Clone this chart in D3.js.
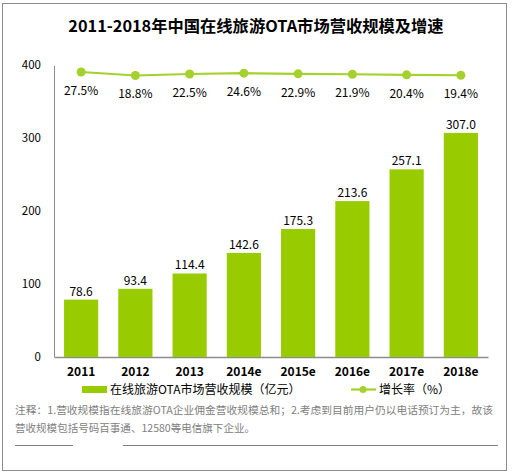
<!DOCTYPE html>
<html>
<head>
<meta charset="UTF-8">
<title>2011-2018年中国在线旅游OTA市场营收规模及增速</title>
<script src="https://cdn.jsdelivr.net/npm/d3@7"></script>
<style>
body{margin:0;background:#fff;}
text{font-family:"Noto Sans CJK SC","DejaVu Sans",sans-serif;}
</style>
</head>
<body>
<script>
var years = ["2011","2012","2013","2014e","2015e","2016e","2017e","2018e"];
var revenue = [78.6,93.4,114.4,142.6,175.3,213.6,257.1,307.0];
var growth = [27.5,18.8,22.5,24.6,22.9,21.9,20.4,19.4];
var yTicks = [0,100,200,300,400];
var noteLines = ["注释：1.营收规模指在线旅游OTA企业佣金营收规模总和；2.考虑到目前用户仍以电话预订为主，故该",
                 "营收规模包括号码百事通、12580等电信旗下企业。"];
var noteWidths = [478, 240];

var W = 512, H = 473;
var num = "Liberation Sans, Arial, sans-serif";
var svg = d3.select("body").append("svg").attr("width",W).attr("height",H);

// outer frame
svg.append("rect").attr("x",2.5).attr("y",3.5).attr("width",504).attr("height",467)
	.attr("fill","none").attr("stroke","#8c8c8c").attr("stroke-width",1);

svg.append("text").attr("x",256).attr("y",32).attr("text-anchor","middle")
	.attr("font-size","16.3px").attr("font-weight","bold").attr("fill","#000")
	.text("2011-2018年中国在线旅游OTA市场营收规模及增速");

var x = d3.scaleBand().domain(years).range([54,488]).paddingInner(0.37).paddingOuter(0.185);
var y = d3.scaleLinear().domain([0,400]).range([357,65]);
var y2 = d3.scaleLinear().domain([0,100]).range([83,43]);

// y axis
var yAxis = d3.axisLeft(y).tickValues(yTicks).tickSize(0).tickPadding(13);
var gy = svg.append("g").attr("transform","translate(54,0)").call(yAxis);
gy.select(".domain").remove();
gy.selectAll("text").attr("font-size","11.5px").attr("fill","#000").attr("font-family",num);
svg.append("line").attr("x1",54.5).attr("x2",54.5).attr("y1",y(400)+1).attr("y2",y(0))
	.attr("stroke","#8c8c8c");

// x axis
var xAxis = d3.axisBottom(x).tickSize(0).tickPadding(10);
var gx = svg.append("g").attr("transform","translate(0,357)").call(xAxis);
gx.select(".domain").attr("stroke","#8c8c8c").attr("stroke-width",1.5);
gx.selectAll("text").attr("font-size","12px").attr("font-weight","bold").attr("fill","#000")
	.attr("font-family",num);

// bars
svg.selectAll("rect.bar").data(revenue).enter().append("rect").attr("class","bar")
	.attr("x",function(d,i){return x(years[i]);})
	.attr("y",function(d){return y(d);})
	.attr("width",x.bandwidth())
	.attr("height",function(d){return y(0)-y(d);})
	.attr("fill","#99cc00");

svg.selectAll("text.blab").data(revenue).enter().append("text").attr("class","blab")
	.attr("x",function(d,i){return x(years[i])+x.bandwidth()/2;})
	.attr("y",function(d){return y(d)-4;})
	.attr("text-anchor","middle").attr("font-size","12px").attr("fill","#000")
	.attr("font-family",num)
	.text(function(d){return d.toFixed(1);});

// growth line
var line = d3.line()
	.x(function(d,i){return x(years[i])+x.bandwidth()/2;})
	.y(function(d){return y2(d);});
svg.append("path").datum(growth).attr("d",line).attr("fill","none")
	.attr("stroke","#a5d12e").attr("stroke-width",2.2);
svg.selectAll("circle.pt").data(growth).enter().append("circle").attr("class","pt")
	.attr("cx",function(d,i){return x(years[i])+x.bandwidth()/2;})
	.attr("cy",function(d){return y2(d);})
	.attr("r",4.5).attr("fill","#a5d12e");
svg.selectAll("text.glab").data(growth).enter().append("text").attr("class","glab")
	.attr("x",function(d,i){return x(years[i])+x.bandwidth()/2;})
	.attr("y",function(d){return y2(d)+23;})
	.attr("text-anchor","middle").attr("font-size","12px").attr("fill","#000")
	.attr("font-family",num)
	.text(function(d){return d.toFixed(1)+"%";});

// legend
svg.append("rect").attr("x",82).attr("y",386).attr("width",25).attr("height",7).attr("fill","#99cc00");
svg.append("text").attr("x",110).attr("y",394).attr("font-size","12px").attr("fill","#000")
	.text("在线旅游OTA市场营收规模（亿元）");
svg.append("line").attr("x1",351).attr("x2",376).attr("y1",389.5).attr("y2",389.5)
	.attr("stroke","#a5d12e").attr("stroke-width",2.2);
svg.append("circle").attr("cx",363).attr("cy",389.5).attr("r",3.5).attr("fill","#a5d12e");
svg.append("text").attr("x",379).attr("y",394).attr("font-size","12px").attr("fill","#000")
	.text("增长率（%）");

// notes
svg.selectAll("text.note").data(noteLines).enter().append("text").attr("class","note")
	.attr("x",15).attr("y",function(d,i){return 414+i*18;})
	.attr("font-size","10.6px").attr("fill","#808080")
	.attr("textLength",function(d,i){return noteWidths[i];})
	.attr("lengthAdjust","spacingAndGlyphs")
	.text(function(d){return d;});

svg.append("line").attr("x1",15).attr("x2",73).attr("y1",445.5).attr("y2",445.5).attr("stroke","#808080");
svg.append("line").attr("x1",123).attr("x2",498).attr("y1",445.5).attr("y2",445.5).attr("stroke","#808080");
</script>
</body>
</html>
